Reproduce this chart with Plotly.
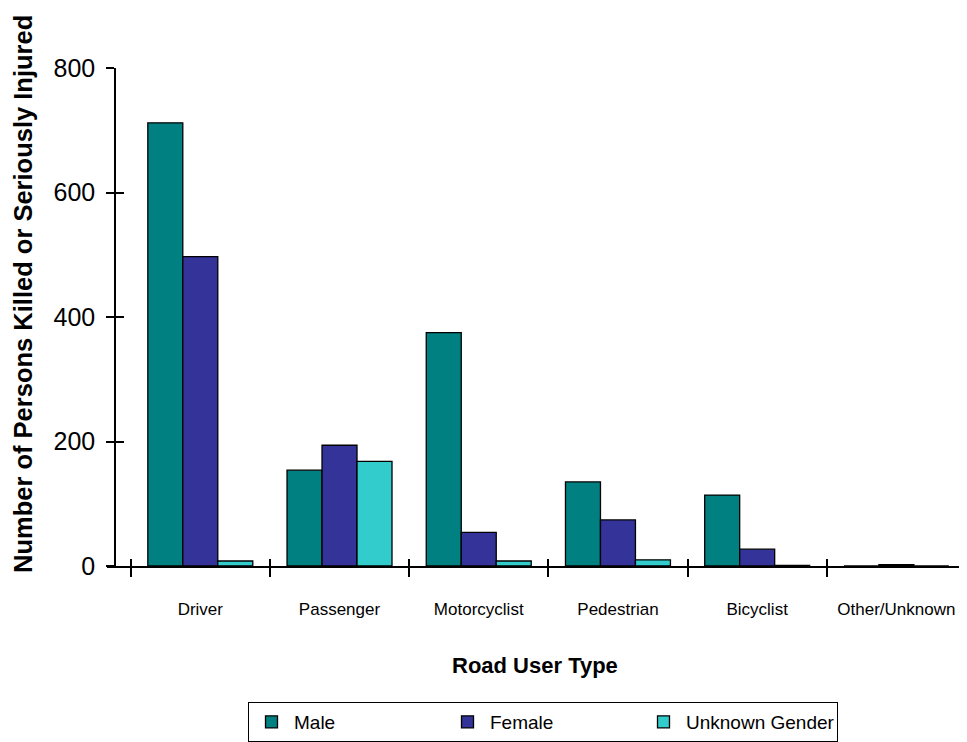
import plotly.graph_objects as go

categories = ["Driver", "Passenger", "Motorcyclist", "Pedestrian", "Bicyclist", "Other/Unknown"]
male = [712, 154, 375, 135, 114, 0]
female = [497, 194, 54, 74, 27, 2]
unknown = [8, 168, 8, 10, 1, 0]
y_ticks = [0, 200, 400, 600, 800]

# page body has an 8px margin; the figure is sized/placed to compensate
O = 8
W, H = 967 - O, 742 - O
L, R, T, B = 107 - O, 1, 68 - O, 742 - 566
pw = W - L - R
ph = H - T - B

def px_x(p):
    return (p - O - L) / pw

def px_y(p):
    return (H - B - (p - O)) / ph

fig = go.Figure()
line = dict(color="black", width=1.3)
fig.add_trace(go.Bar(name="Male", x=categories, y=male, marker=dict(color="#008080", line=line)))
fig.add_trace(go.Bar(name="Female", x=categories, y=female, marker=dict(color="#333399", line=line)))
fig.add_trace(go.Bar(name="Unknown Gender", x=categories, y=unknown, marker=dict(color="#33CCCC", line=line)))

n = len(categories)
bounds = [i - 0.5 for i in range(n + 1)]
xr = [-0.5 - (130.7 - 107) / 139.3, n - 0.5]
fig.add_trace(go.Scatter(x=[bounds[0]], y=[0], xaxis="x2", yaxis="y2", mode="markers",
                         marker=dict(opacity=0), showlegend=False, hoverinfo="skip"))

fig.update_layout(
    width=W, height=H,
    margin=dict(l=L, r=R, t=T, b=B, autoexpand=False),
    paper_bgcolor="white", plot_bgcolor="white",
    barmode="group", bargap=0.246, bargroupgap=0,
    font=dict(family="Liberation Sans, Arial, sans-serif", color="black"),
    xaxis=dict(type="category", range=xr, showline=True, linecolor="black", linewidth=1.5,
               ticks="outside", tickson="boundaries", ticklen=9, tickwidth=1.5, tickcolor="black",
               tickfont=dict(size=17), showgrid=False, zeroline=False, ticklabelstandoff=27),
    xaxis2=dict(overlaying="x", anchor="y", range=xr, tickvals=bounds, ticks="inside", ticklen=7,
                tickwidth=1.5, tickcolor="black", showticklabels=False, showline=False,
                showgrid=False, zeroline=False, side="bottom"),
    yaxis=dict(range=[0, 800], anchor="free", position=px_x(115), tickvals=y_ticks,
               showline=True, linecolor="black", linewidth=1.5, ticks="outside", ticklen=8,
               tickwidth=1.5, tickcolor="black", tickfont=dict(size=25), showgrid=False,
               zeroline=False, ticklabelstandoff=6),
    yaxis2=dict(range=[0, 800], overlaying="y", anchor="free", position=px_x(115), tickvals=y_ticks,
                ticks="inside", ticklen=8, tickwidth=1.5, tickcolor="black", showticklabels=False,
                showline=False, showgrid=False, zeroline=False),
    legend=dict(orientation="h", x=px_x(248), xanchor="left", y=px_y(702), yanchor="top",
                bordercolor="black", borderwidth=1, font=dict(size=19), entrywidth=146,
                entrywidthmode="pixels", traceorder="normal", bgcolor="white", itemwidth=35),
    showlegend=True,
)

fig.add_annotation(text="<b>Number of Persons Killed or Seriously Injured</b>", textangle=-90,
                   xref="paper", yref="paper", x=px_x(23), y=px_y(294), showarrow=False,
                   font=dict(size=25.5), xanchor="center", yanchor="middle")
fig.add_annotation(text="<b>Road User Type</b>", xref="paper", yref="paper",
                   x=px_x(535), y=px_y(665), showarrow=False, font=dict(size=22),
                   xanchor="center", yanchor="middle")

fig.write_html("out.html")
